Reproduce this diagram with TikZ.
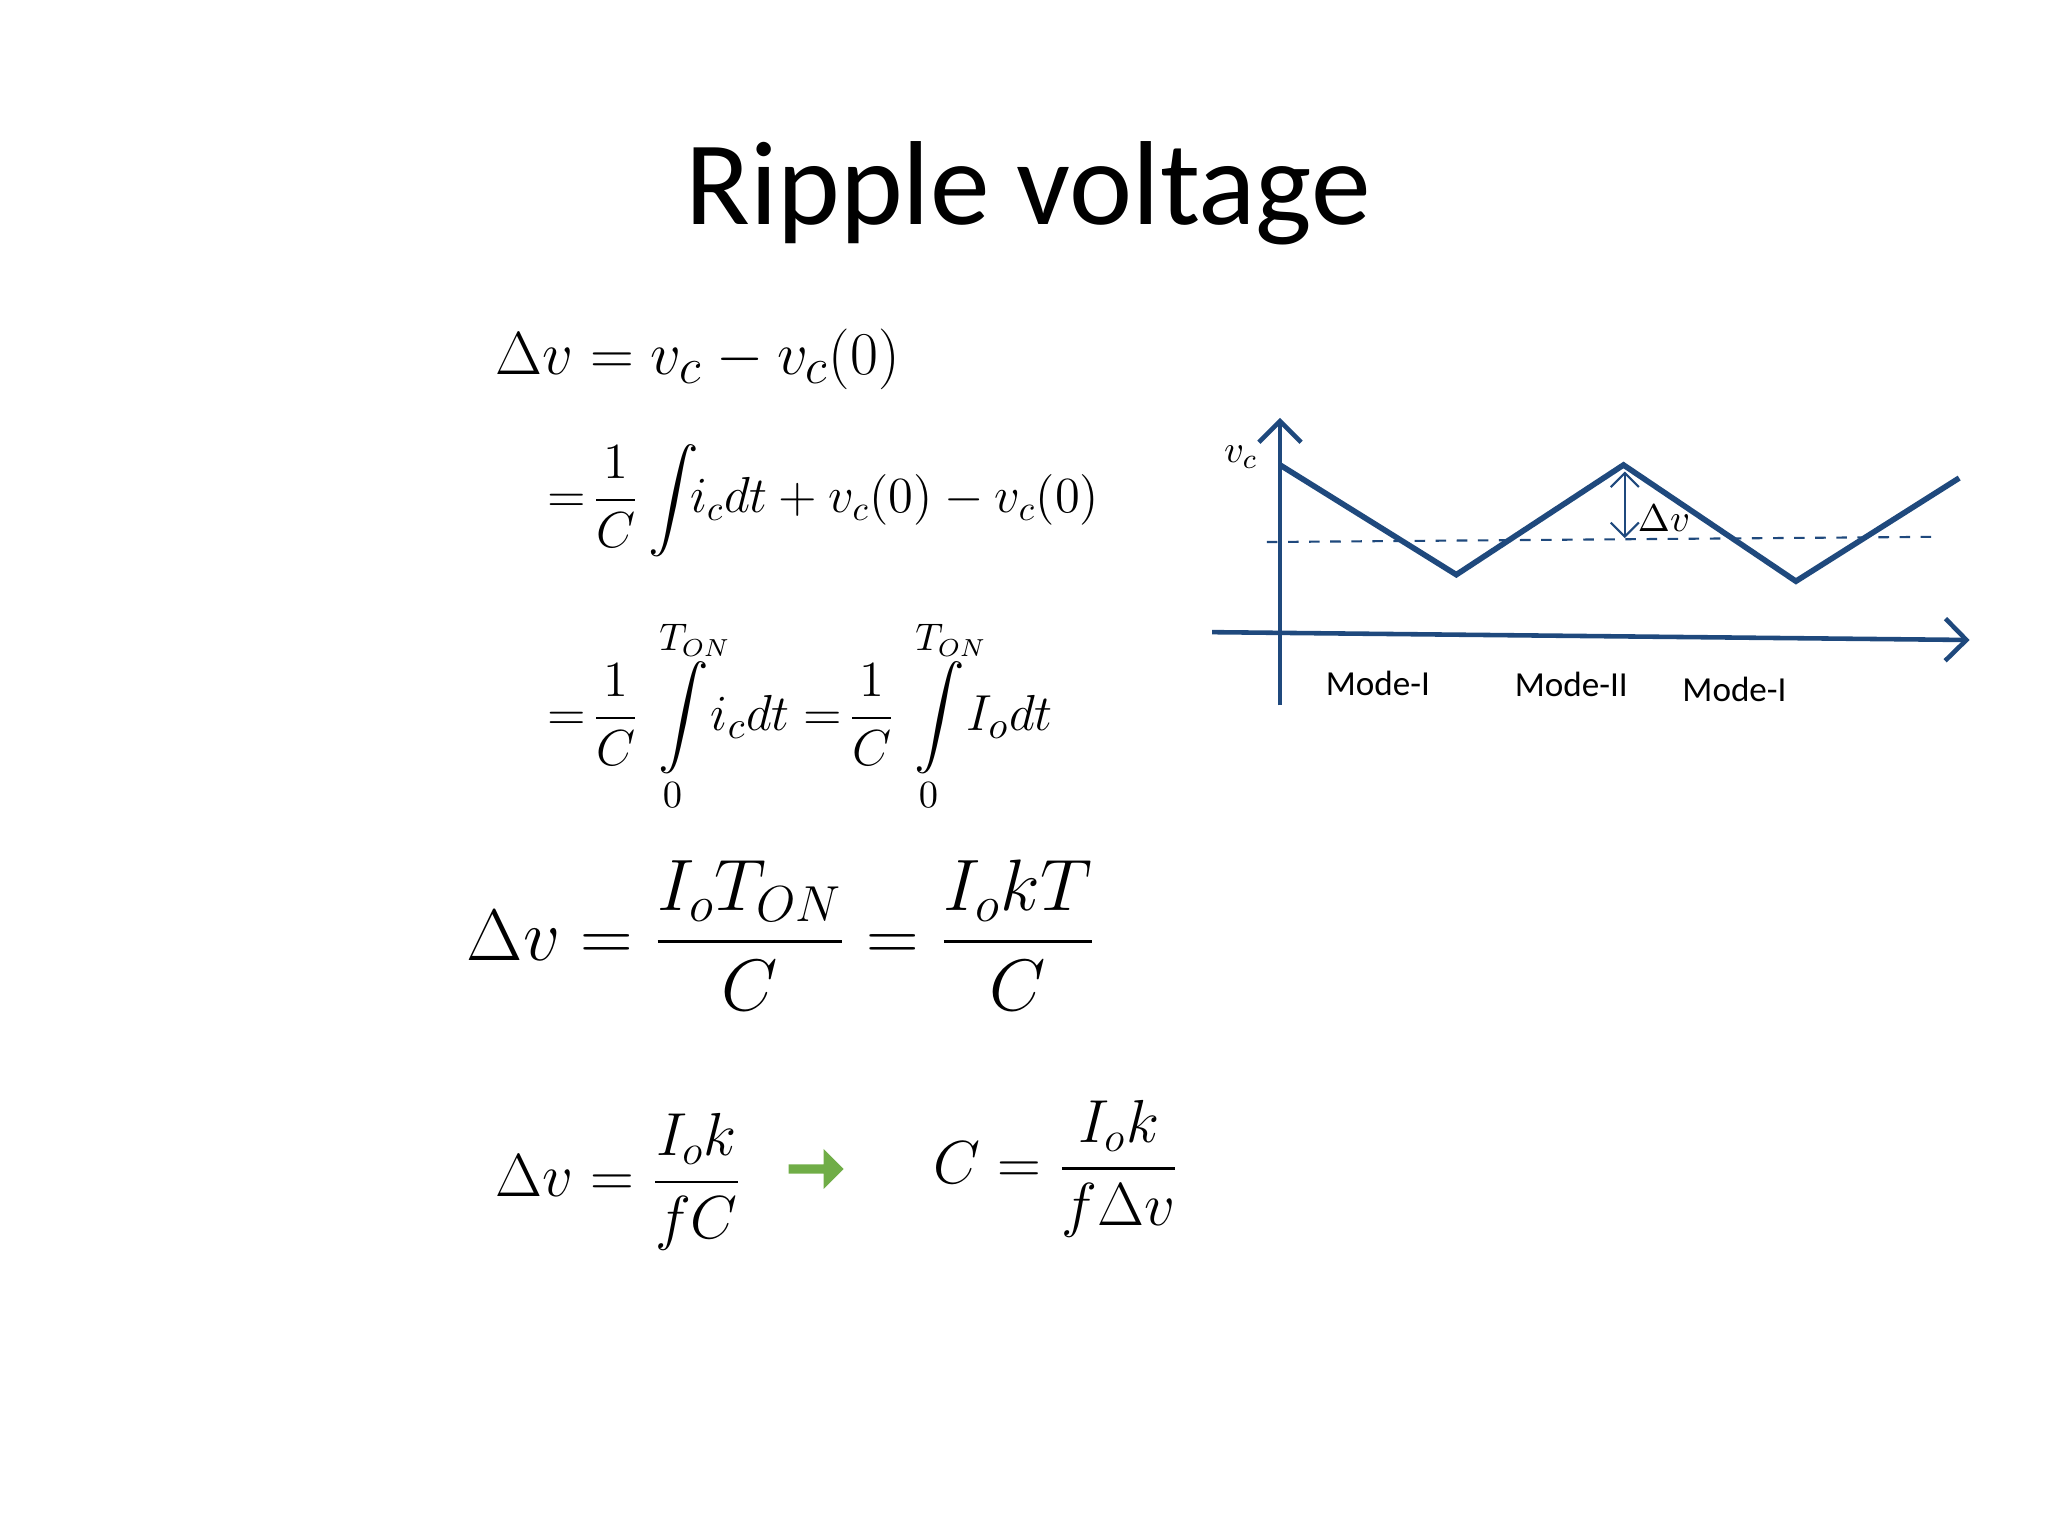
\documentclass[tikz,border=0pt]{standalone}
\usepackage{amsmath}
\usepackage{fontspec}
\newfontfamily\calib{Carlito}
\usetikzlibrary{arrows.meta,shapes.arrows}
\definecolor{dblue}{RGB}{31,73,125}
\definecolor{lgreen}{RGB}{112,173,71}
\begin{document}
\begin{tikzpicture}[x=0.01306cm,y=-0.01306cm,
  ax/.style={draw=dblue,line width=1.3pt},
  lbl/.style={font=\calib\fontsize{10}{12}\selectfont,anchor=center}]
\useasboundingbox (0,0) rectangle (1568,1176);
\node (title) at (787,148) {\calib\fontsize{34}{40}\selectfont Ripple voltage};
\node[anchor=west] (e1) at (370,275) {\fontsize{19}{22}\selectfont $\Delta v = v_c - v_c(0)$};
\node[anchor=west] (e2) at (410,383) {\fontsize{14}{17}\selectfont $=\!\dfrac{1}{C}\displaystyle\int\!\! i_c dt + v_c(0) - v_c(0)$};
\node[anchor=west] (e3) at (410,548) {\fontsize{15}{18}\selectfont $=\!\dfrac{1}{C}\displaystyle\int\limits_0^{T_{ON}}\!\! i_c dt =\! \dfrac{1}{C}\int\limits_0^{T_{ON}}\!\! I_o dt$};
\node[anchor=west] (e4) at (348,716) {\fontsize{22}{26}\selectfont $\Delta v = \dfrac{I_o T_{ON}}{C} = \dfrac{I_o kT}{C}$};
\node[anchor=west] (e5) at (370,905) {\fontsize{17}{21}\selectfont $\Delta v = \dfrac{I_o k}{fC}$};
\node[anchor=west] (e6) at (705,895) {\fontsize{17}{21}\selectfont $C = \dfrac{I_o k}{f\Delta v}$};
\node[single arrow,fill=lgreen,draw=none,minimum height=0.55cm,minimum width=0.4cm,single arrow head extend=0.08cm,inner sep=0.5pt] (ga) at (623,895) {};
% graph
\coordinate (y0) at (980,540); \coordinate (y1) at (980,320);
\coordinate (x0) at (928,484); \coordinate (x1) at (1508,490);
\draw[ax,-{Straight Barb[length=6pt]}] (y0) -- (y1);
\draw[ax,-{Straight Barb[length=6pt]}] (x0) -- (x1);
\coordinate (p0) at (980,356); \coordinate (p1) at (1115,440);
\coordinate (p2) at (1243,356); \coordinate (p3) at (1375,445);
\coordinate (p4) at (1500,366);
\draw[ax,line width=1.6pt] (p0)--(p1)--(p2)--(p3)--(p4);
\coordinate (d0) at (970,415); \coordinate (d1) at (1483,411);
\draw[dblue,dashed,line width=0.6pt] (d0)--(d1);
\coordinate (a0) at (1244,361); \coordinate (a1) at (1244,412);
\draw[dblue,line width=0.6pt,{Straight Barb[length=4pt]}-{Straight Barb[length=4pt]}] (a0)--(a1);
\node (dv) at (1274,397) {\fontsize{11}{13}\selectfont $\Delta v$};
\node (vc) at (950,350) {\fontsize{11}{13}\selectfont $v_c$};
\node[lbl] (m1) at (1055,523) {Mode-I};
\node[lbl] (m2) at (1203,524) {Mode-II};
\node[lbl] (m3) at (1328,528) {Mode-I};
\end{tikzpicture}
\end{document}
